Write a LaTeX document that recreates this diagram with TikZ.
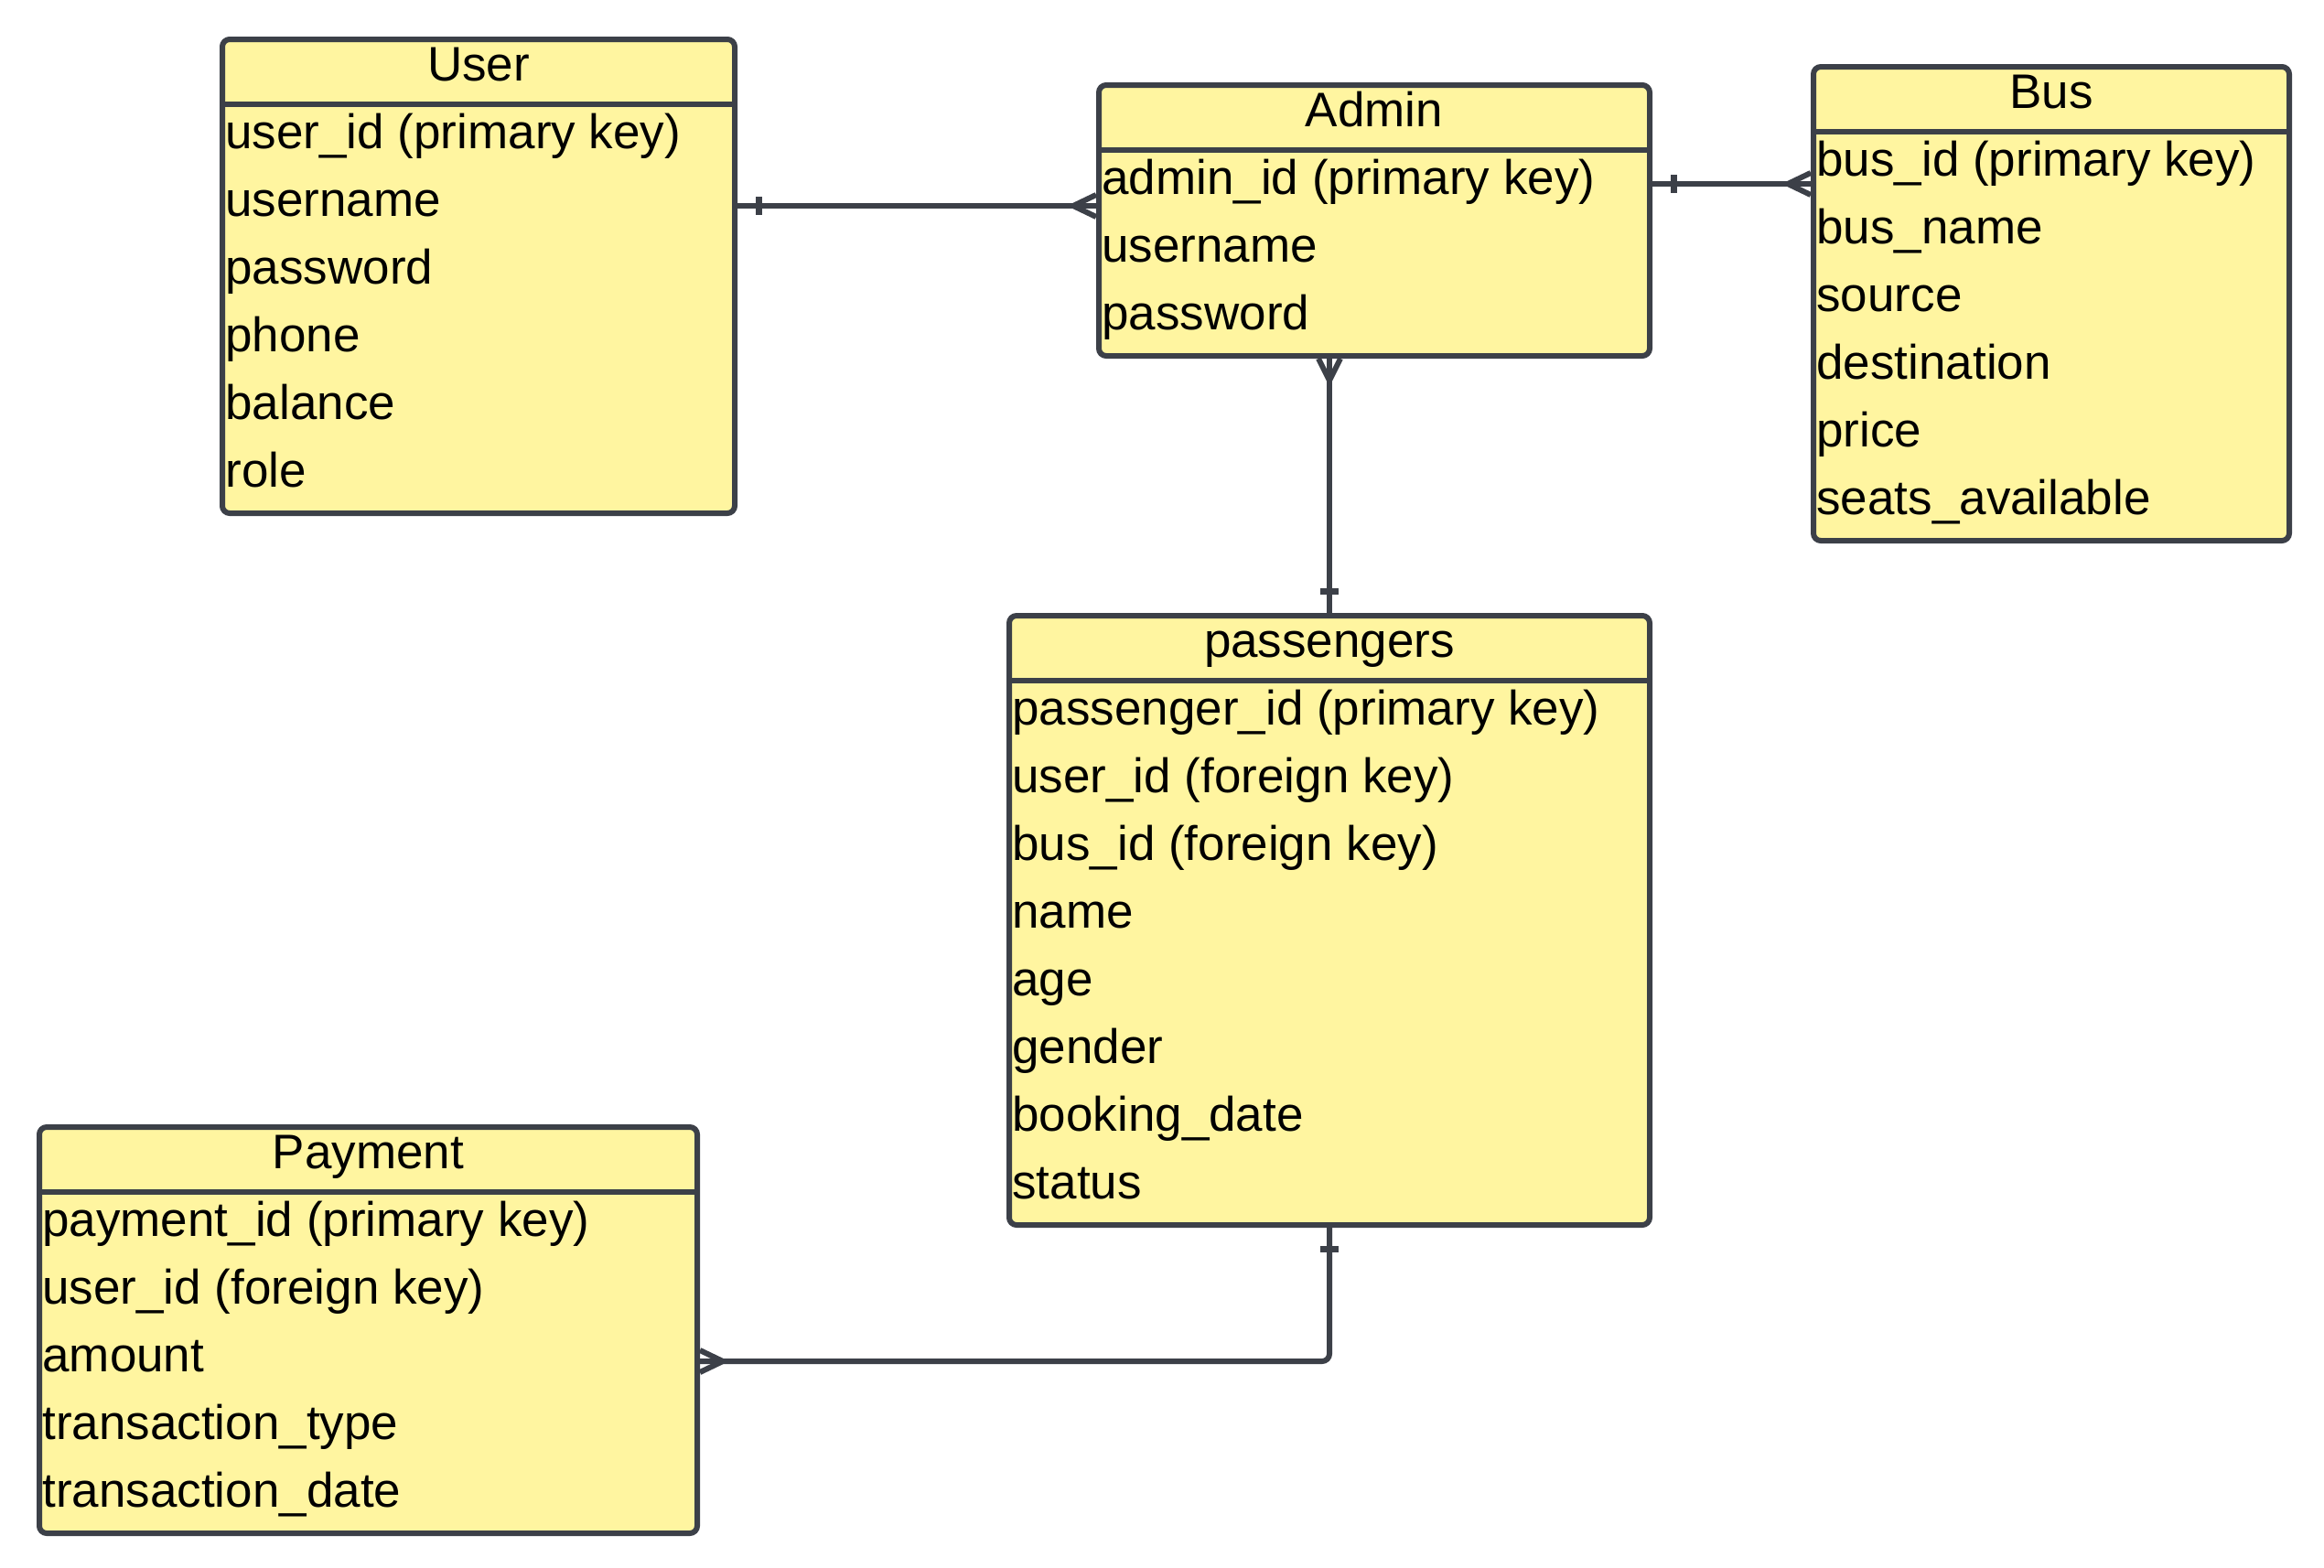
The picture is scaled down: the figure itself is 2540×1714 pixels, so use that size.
\documentclass[tikz,border=0pt]{standalone}
\usepackage{fontspec}
\setmainfont{Liberation Sans}
\usetikzlibrary{calc}
\definecolor{ink}{RGB}{60,64,72}
\definecolor{pale}{RGB}{255,245,160}
\tikzset{
  ent/.style={draw=ink, fill=pale, line width=3pt, rounded corners=4pt, anchor=north west, inner sep=0pt},
  sepline/.style={draw=ink, line width=3pt},
  txt/.style={inner sep=0pt, text=black, font=\fontsize{26.5pt}{30pt}\selectfont},
  conn/.style={draw=ink, line width=3pt, line join=miter},
  tickmark/.style={draw=ink, line width=3.5pt, line cap=butt}
}
\newcommand\entity[7]{%
  \node[ent, minimum width=#4*0.5pt, minimum height=(#5+1)*37pt] (#1) at (#2,#3) {};
  \draw[sepline] ($(#1.north west)+(0,74)$) -- ($(#1.north east)+(0,74)$);
  \node[txt, anchor=base] (#1-title) at ($(#1.north)+(0,48)$) {#6};
  \foreach \t [count=\i] in {#7} {
    \node[txt, anchor=base west] (#1-r\i) at ($(#1.north west)+(6,48+74*\i)$) {\t};
  }
}
\begin{document}
\begin{tikzpicture}[x=0.5pt, y=-0.5pt]
\useasboundingbox[fill=white] (0,0) rectangle (2540,1714);

\entity{user}{240}{40}{560}{6}{User}{user\_id (primary key), username, password, phone, balance, role}
\entity{admin}{1198}{90}{602}{3}{Admin}{admin\_id (primary key), username, password}
\entity{bus}{1979}{70}{520}{6}{Bus}{bus\_id (primary key), bus\_name, source, destination, price, seats\_available}
\entity{pass}{1100}{670}{700}{8}{passengers}{passenger\_id (primary key), user\_id (foreign key), bus\_id (foreign key), name, age, gender, booking\_date, status}
\entity{pay}{40}{1229}{719}{5}{Payment}{payment\_id (primary key), user\_id (foreign key), amount, transaction\_type, transaction\_date}

% User -- Admin
\coordinate (ua1) at (user.east |- 0,225);
\coordinate (ua2) at (admin.west |- 0,225);
\draw[conn] (ua1) -- (ua2);
\draw[tickmark] ($(ua1)+(23,-10)$) -- ++(0,20);
\draw[conn] ($(ua2)+(0,-12)$) -- ++(-25,12) -- ++(25,12);

% Admin -- Bus
\coordinate (ab1) at (admin.east |- 0,201);
\coordinate (ab2) at (bus.west |- 0,201);
\draw[conn] (ab1) -- (ab2);
\draw[tickmark] ($(ab1)+(23,-10)$) -- ++(0,20);
\draw[conn] ($(ab2)+(0,-12)$) -- ++(-25,12) -- ++(25,12);

% Admin -- passengers
\coordinate (ap1) at (admin.south -| pass.north);
\draw[conn] (ap1) -- (pass.north);
\draw[tickmark] ($(pass.north)+(-10,-24)$) -- ++(20,0);
\draw[conn] ($(ap1)+(-12,0)$) -- ++(12,24) -- ++(12,-24);

% passengers -- Payment
\coordinate (pp2) at (pay.east |- 0,1488);
\draw[conn, rounded corners=4pt] (pass.south) |- (pp2);
\draw[tickmark] ($(pass.south)+(-10,23)$) -- ++(20,0);
\draw[conn] ($(pp2)+(0,-12)$) -- ++(25,12) -- ++(-25,12);
\end{tikzpicture}
\end{document}
